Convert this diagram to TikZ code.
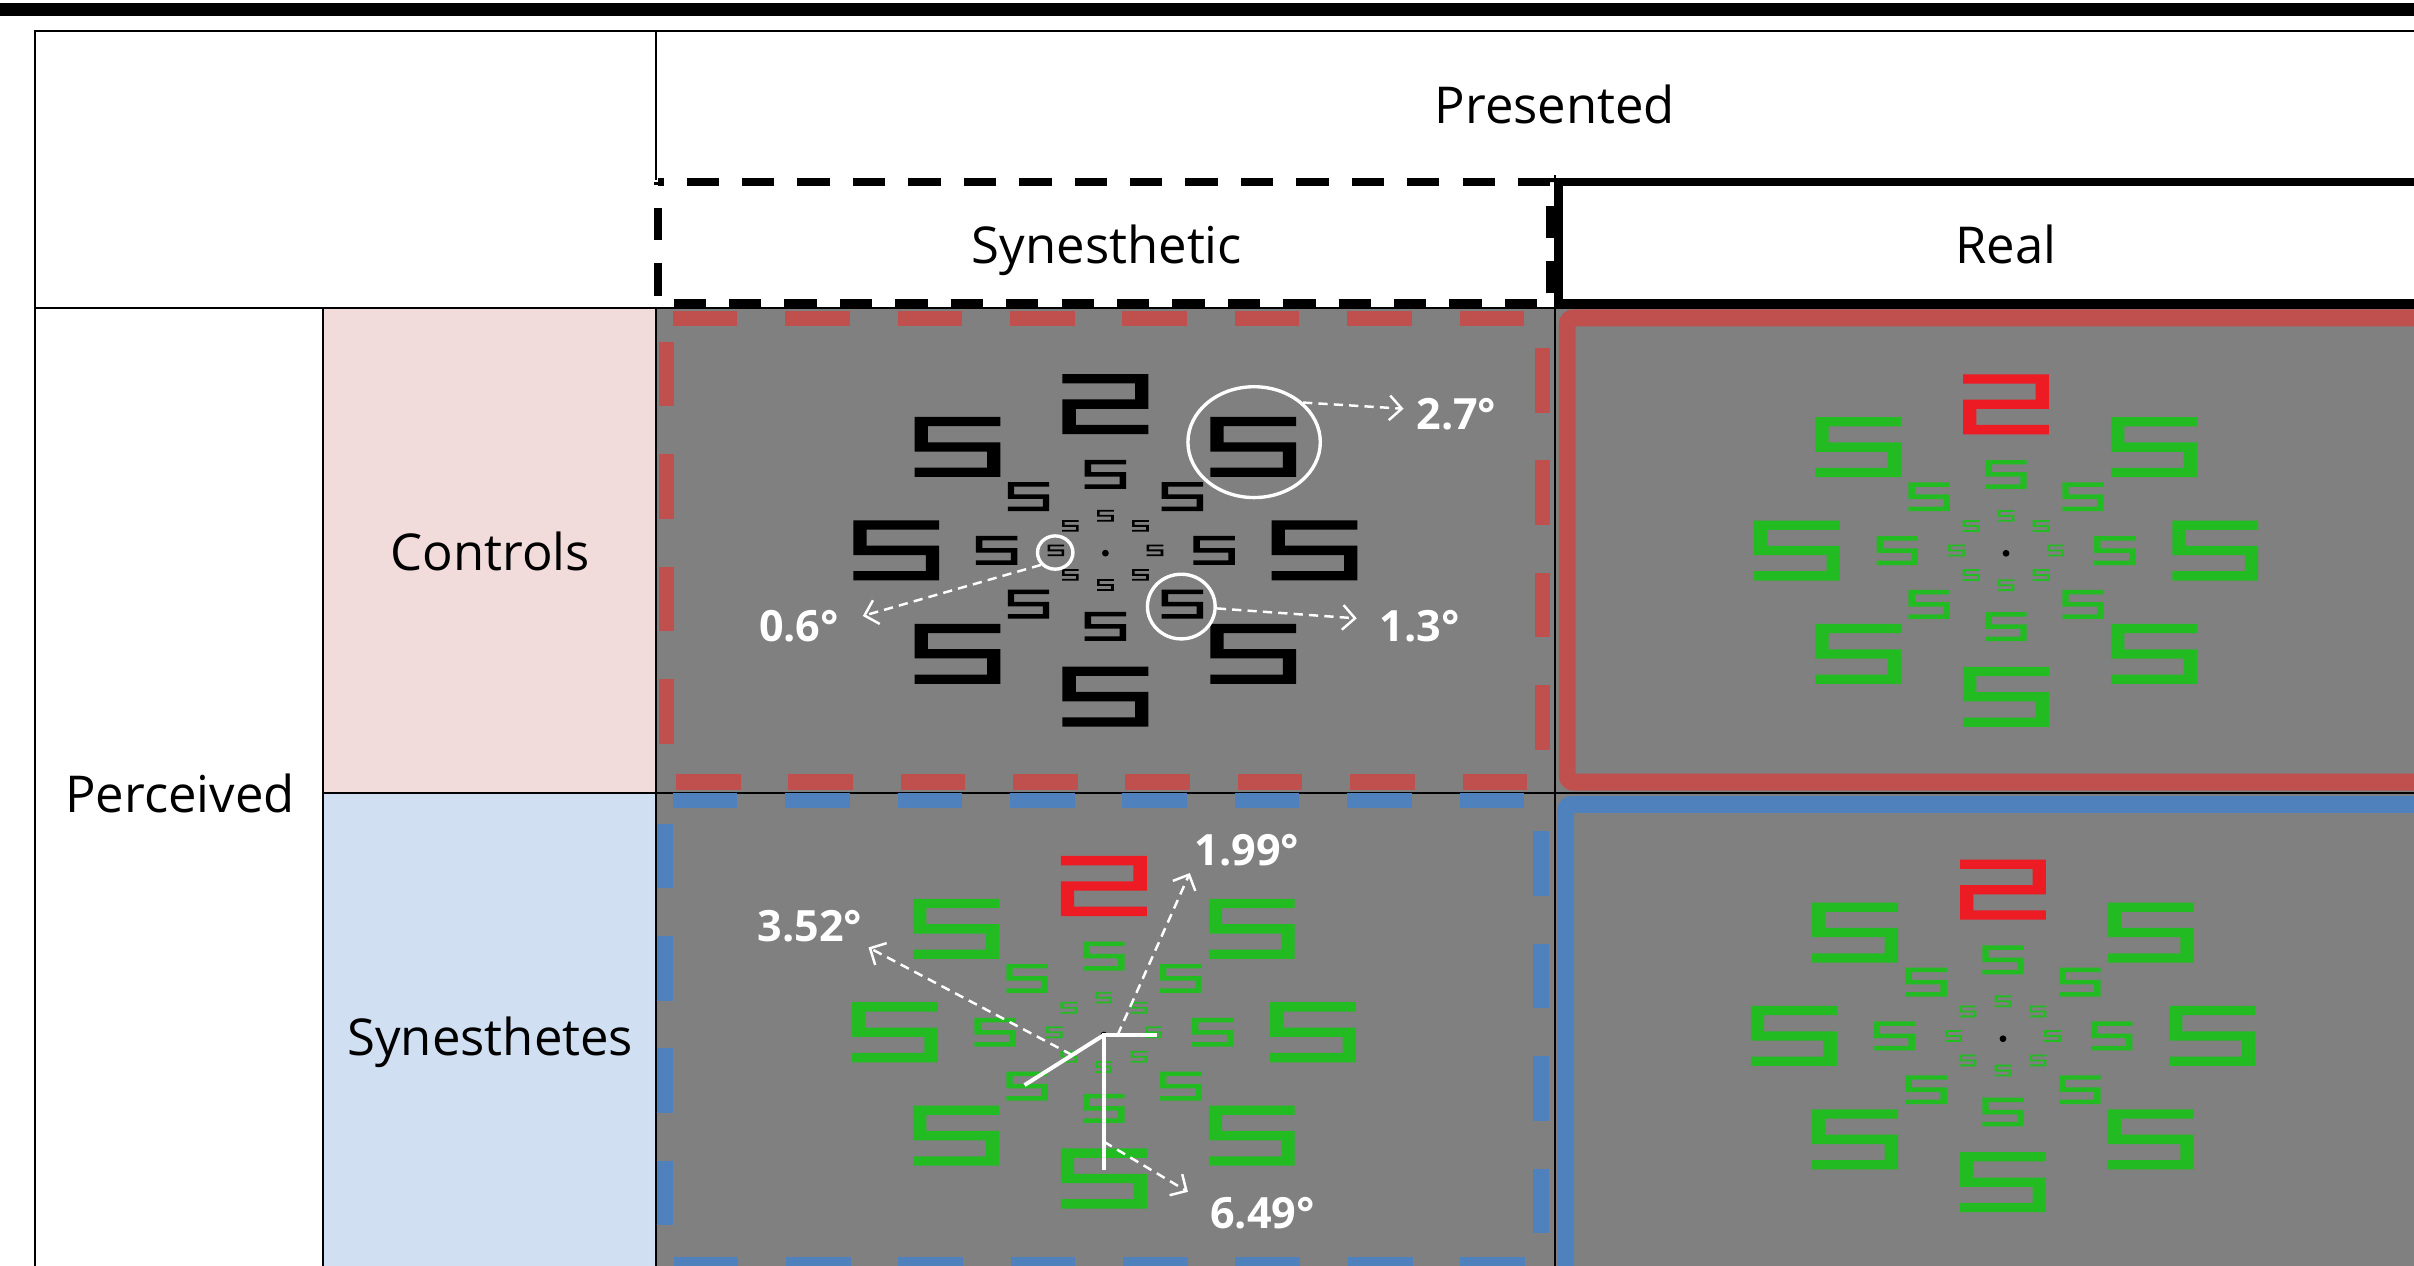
\documentclass[tikz,border=0pt]{standalone}
\usepackage{fontspec}
\setmainfont{Open Sans}
\usetikzlibrary{arrows.meta,shapes.geometric,calc}

\definecolor{panelgray}{RGB}{128,128,128}
\definecolor{ctrlred}{RGB}{192,80,77}
\definecolor{synblue}{RGB}{79,129,189}
\definecolor{ctrlpink}{RGB}{242,220,219}
\definecolor{synpale}{RGB}{208,224,242}
\definecolor{fivegreen}{RGB}{34,187,34}
\definecolor{twored}{RGB}{237,28,36}

\tikzset{
  % blocky five, unit square, y pointing down
  glyph five/.pic={
    \fill (-.5,-.5) -- (.5,-.5) -- (.5,-.345) -- (-.345,-.345) -- (-.345,-.078)
      -- (.5,-.078) -- (.5,.5) -- (-.5,.5) -- (-.5,.345) -- (.345,.345)
      -- (.345,.078) -- (-.5,.078) -- cycle;
  },
  table line/.style={line width=0.7pt},
  cell text/.style={font=\fontsize{16.5}{20}\selectfont, inner sep=0pt, anchor=base},
  deg label/.style={text=white, font=\bfseries\fontsize{14}{16}\selectfont, inner sep=1pt, anchor=base},
  deg arrow/.style={white, line width=0.8pt, dash pattern=on 3pt off 2pt,
    -{Straight Barb[length=4pt, width=8pt]}},
  mark ring/.style={ellipse, draw=white, line width=1.1pt, inner sep=0pt},
  mark line/.style={white, line width=1.3pt},
  dashed frame/.style={line width=5pt, dash pattern=on 21pt off 15.5pt, dash phase=29pt},
}

% crowded display: centre, colour of the fives, colour of the two
\newcommand\stimulus[3]{%
  \begin{scope}[shift={#1}, xscale=1.43]
    \foreach \a in {0,45,...,315} {
      \pic[transform shape, color=#2, scale=18.8] at (\a:49.4) {glyph five};
      \pic[transform shape, color=#2, scale=7.6] at (\a:22.5) {glyph five};
    }
    \foreach \a in {0,45,...,225,315}
      \pic[transform shape, color=#2, scale=39] at (\a:95) {glyph five};
    \pic[transform shape, color=#3, scale=39, xscale=-1] at (270:95) {glyph five};
  \end{scope}
  \fill #1 ++(0,1.8) circle[radius=2.2];
}

\begin{document}
\begin{tikzpicture}[x=0.5pt, y=-0.5pt]
  \useasboundingbox (0,0) rectangle (1568,822);
  \clip (0,0) rectangle (1568,822);
  \fill[white] (0,0) rectangle (1568,822);
  \draw[line width=4.1pt] (0,6.3) -- (1568,6.3);

  % cells
  \fill[ctrlpink] (210,200) rectangle (426,515);
  \fill[synpale] (210,515) rectangle (426,822);
  \fill[panelgray] (426,200) rectangle (1568,822);

  % grid
  \draw[table line] (1568,20) -- (23,20) -- (23,822);
  \draw[table line] (23,200) -- (1568,200);
  \draw[table line] (426,20) -- (426,117) (426,200) -- (426,822);
  \draw[table line] (210,200) -- (210,822);
  \draw[table line] (210,515) -- (1568,515);
  \draw[table line] (1010,114) -- (1010,822);

  % column heads
  \draw[line width=2.6pt, dash pattern=on 10.5pt off 7.5pt, dash phase=9.75pt]
    (427.5,118.5) rectangle (1007,197);
  \draw[line width=2.6pt] (1012.5,118.5) rectangle (1600,197);

  % panel frames
  \draw[ctrlred, dashed frame] (433,207) rectangle (1002,508);
  \draw[synblue, dashed frame] (432,520) rectangle (1001,821.5);
  \draw[ctrlred, line width=5.5pt, rounded corners=2pt] (1018,206.5) rectangle (1620,508);
  \draw[synblue, line width=5.5pt, rounded corners=2pt] (1017,522.5) rectangle (1620,860);

  \stimulus{(718,357.5)}{black}{black}
  \stimulus{(1303,357.6)}{fivegreen}{twored}
  \stimulus{(717,670.5)}{fivegreen}{twored}
  \stimulus{(1301,672.9)}{fivegreen}{twored}

  % labels
  \node[cell text] (presented) at (1010,80) {Presented};
  \node[cell text] (synhead) at (719,171) {Synesthetic};
  \node[cell text] (realhead) at (1303,171) {Real};
  \node[cell text] (perceived) at (117,527.5) {Perceived};
  \node[cell text] (controls) at (318.5,370.5) {Controls};
  \node[cell text] (synesthetes) at (318.5,685.5) {Synesthetes};

  % spacing marks, controls
  \node[mark ring, minimum width=43pt, minimum height=36pt] (ringbig) at (814.6,287.2) {};
  \node[mark ring, minimum width=11.5pt, minimum height=10.8pt] (ringsmall) at (685.4,358.9) {};
  \node[mark ring, minimum width=22pt, minimum height=21pt] (ringmid) at (767.3,394) {};
  \node[deg label] (l27) at (946,279.3) {2.7°};
  \node[deg label] (l06) at (519,416.8) {0.6°};
  \node[deg label] (l13) at (922,417) {1.3°};
  \draw[deg arrow, shorten >=3pt] (ringbig.39) -- (l27.173);
  \draw[deg arrow, shorten >=6.8pt] (ringsmall.221) -- (l06.6);
  \draw[deg arrow, shorten >=6.2pt] (ringmid.-3) -- (l13.171);

  % spacing marks, synesthetes
  \coordinate (fix) at (717,672.3);
  \coordinate (fixright) at (751.3,672.3);
  \coordinate (fixdown) at (717,760);
  \coordinate (fixdiag) at (665.5,704.8);
  \draw[mark line] (fixright) -- (fix) -- (fixdown);
  \draw[mark line] (fix) -- (fixdiag);
  \node[deg label] (l199) at (810,562.5) {1.99°};
  \node[deg label] (l352) at (526,611.7) {3.52°};
  \node[deg label] (l649) at (820,797.7) {6.49°};
  \draw[deg arrow, shorten >=1pt] ($(fix)!.26!(fixright)$) -- (l199.south west);
  \draw[deg arrow, shorten >=1pt] ($(fix)!.4!(fixdiag)$) -- (l352.south east);
  \draw[deg arrow, shorten >=7pt] ($(fix)!.79!(fixdown)$) -- (l649.170);
\end{tikzpicture}
\end{document}
